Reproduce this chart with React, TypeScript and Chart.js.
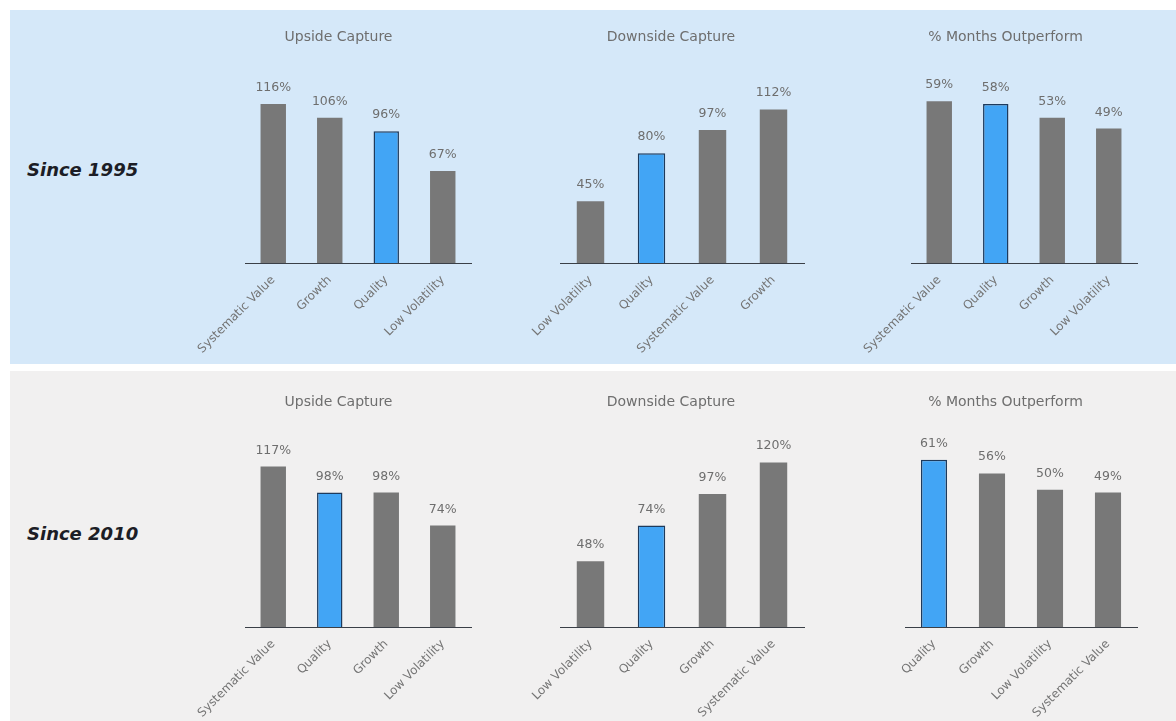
import React, { useEffect, useRef } from "react";
import { Chart, registerables } from "chart.js";

Chart.register(...registerables);

// ---- data ----
const upside1995Labels = ["Systematic Value", "Growth", "Quality", "Low Volatility"];
const upside1995Values = [116, 106, 96, 67];
const downside1995Labels = ["Low Volatility", "Quality", "Systematic Value", "Growth"];
const downside1995Values = [45, 80, 97, 112];
const months1995Labels = ["Systematic Value", "Quality", "Growth", "Low Volatility"];
const months1995Values = [59, 58, 53, 49];

const upside2010Labels = ["Systematic Value", "Quality", "Growth", "Low Volatility"];
const upside2010Values = [117, 98, 98, 74];
const downside2010Labels = ["Low Volatility", "Quality", "Growth", "Systematic Value"];
const downside2010Values = [48, 74, 97, 120];
const months2010Labels = ["Quality", "Growth", "Low Volatility", "Systematic Value"];
const months2010Values = [61, 56, 50, 49];

const highlightedFactor = "Quality";
const captureAxisMax = 140;
const monthsAxisMax = 70;

// ---- styling ----
const GREY_BAR = "#787878";
const BLUE_BAR = "#42a5f5";
const BLUE_EDGE = "#1d3a5c";
const TEXT_GREY = "#6e6e6e";
const FONT = "'DejaVu Sans', 'Liberation Sans', sans-serif";

// draws "NN%" above every bar
const valueLabels = {
  id: "valueLabels",
  afterDatasetsDraw(chart: any) {
    const { ctx } = chart;
    const meta = chart.getDatasetMeta(0);
    const data = chart.data.datasets[0].data as number[];
    ctx.save();
    ctx.font = `12.5px ${FONT}`;
    ctx.fillStyle = TEXT_GREY;
    ctx.textAlign = "center";
    ctx.textBaseline = "alphabetic";
    meta.data.forEach((bar: any, i: number) => {
      ctx.fillText(`${data[i]}%`, bar.x, bar.y - 13);
    });
    ctx.restore();
  },
};

type PanelProps = {
  title: string;
  labels: string[];
  values: number[];
  max: number;
  left: number;
  top: number;
  width: number;
  height: number;
  padLeft: number;
  padRight: number;
  axisHeight: number;
  titleTop: number;
  titleBottom: number;
};

function BarPanel(p: PanelProps) {
  const ref = useRef<HTMLCanvasElement | null>(null);

  useEffect(() => {
    if (!ref.current) return;
    const colors = p.labels.map((l) => (l === highlightedFactor ? BLUE_BAR : GREY_BAR));
    const edges = p.labels.map((l) => (l === highlightedFactor ? BLUE_EDGE : GREY_BAR));
    const edgeWidths = p.labels.map((l) => (l === highlightedFactor ? 1.5 : 0));

    const chart = new Chart(ref.current, {
      type: "bar",
      data: {
        labels: p.labels,
        datasets: [
          {
            data: p.values,
            backgroundColor: colors,
            borderColor: edges,
            borderWidth: edgeWidths,
            categoryPercentage: 1,
            barPercentage: 0.45,
          },
        ],
      },
      options: {
        responsive: false,
        animation: false,
        events: [],
        layout: { padding: 0 },
        plugins: {
          legend: { display: false },
          tooltip: { enabled: false },
          title: {
            display: true,
            text: p.title,
            color: TEXT_GREY,
            font: { family: FONT, size: 14, weight: "normal", lineHeight: 1.2 },
            padding: { top: p.titleTop, bottom: p.titleBottom },
          },
        },
        scales: {
          x: {
            grid: { display: false, drawTicks: false },
            border: { display: true, color: "#3a3f47", width: 1 },
            ticks: {
              color: "#747474",
              font: { family: FONT, size: 12 },
              maxRotation: 45,
              minRotation: 45,
              autoSkip: false,
              padding: 10,
            },
            afterFit: (scale: any) => {
              scale.height = p.axisHeight;
              scale.paddingLeft = p.padLeft;
              scale.paddingRight = p.padRight;
              scale.paddingTop = 0;
              scale.paddingBottom = 0;
            },
          },
          y: {
            display: false,
            min: 0,
            max: p.max,
          },
        },
      },
      plugins: [valueLabels],
    });
    return () => chart.destroy();
  }, []);

  return (
    <canvas
      ref={ref}
      width={p.width}
      height={p.height}
      style={{ position: "absolute", left: p.left, top: p.top, width: p.width, height: p.height }}
    />
  );
}

const rowLabelStyle: React.CSSProperties = {
  position: "absolute",
  left: 27,
  fontFamily: "'DejaVu Sans', sans-serif",
  fontWeight: "bold",
  fontStyle: "italic",
  fontSize: 18,
  lineHeight: "20px",
  color: "#1c1d26",
  whiteSpace: "nowrap",
};

export default function App() {
  const top = { top: 10, height: 353, axisHeight: 100, titleTop: 18.6, titleBottom: 25.6 };
  const bottom = { top: 372, height: 349, axisHeight: 94, titleTop: 21.6, titleBottom: 24.6 };
  const col1 = { left: 187, width: 303, padLeft: 58, padRight: 19 };
  const col2 = { left: 522, width: 298, padLeft: 38, padRight: 16 };
  const col3 = { left: 845, width: 321, padLeft: 66, padRight: 29 };
  const col3b = { left: 845, width: 321, padLeft: 60, padRight: 29 };

  return (
    <div
      style={{
        position: "absolute",
        left: 0,
        top: 0,
        width: 1176,
        height: 721,
        background: "#ffffff",
        overflow: "hidden",
      }}
    >
      <div style={{ position: "absolute", left: 10, top: 10, width: 1166, height: 354, background: "#d5e8f9" }} />
      <div style={{ position: "absolute", left: 10, top: 371, width: 1166, height: 350, background: "#f1f0f0" }} />

      <div style={{ ...rowLabelStyle, top: 160 }}>Since 1995</div>
      <div style={{ ...rowLabelStyle, top: 524 }}>Since 2010</div>

      <BarPanel title="Upside Capture" labels={upside1995Labels} values={upside1995Values} max={captureAxisMax} {...top} {...col1} />
      <BarPanel title="Downside Capture" labels={downside1995Labels} values={downside1995Values} max={captureAxisMax} {...top} {...col2} />
      <BarPanel title="% Months Outperform" labels={months1995Labels} values={months1995Values} max={monthsAxisMax} {...top} {...col3} />

      <BarPanel title="Upside Capture" labels={upside2010Labels} values={upside2010Values} max={captureAxisMax} {...bottom} {...col1} />
      <BarPanel title="Downside Capture" labels={downside2010Labels} values={downside2010Values} max={captureAxisMax} {...bottom} {...col2} />
      <BarPanel title="% Months Outperform" labels={months2010Labels} values={months2010Values} max={monthsAxisMax} {...bottom} {...col3b} />
    </div>
  );
}
